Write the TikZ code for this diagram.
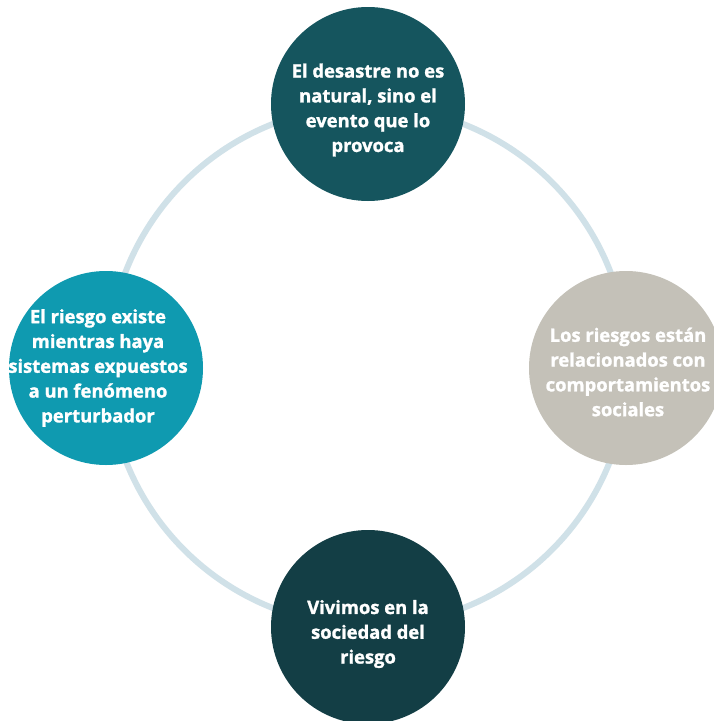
\documentclass[tikz,border=0pt]{standalone}
\usepackage{fontspec}
\setmainfont{Open Sans}[BoldFeatures={FakeBold=1.4}]
\definecolor{ringc}{HTML}{D0E1E8}
\definecolor{topc}{HTML}{15555E}
\definecolor{leftc}{HTML}{0F9AB0}
\definecolor{rightc}{HTML}{C4C1B8}
\definecolor{botc}{HTML}{133E45}
\tikzset{
  bubble/.style={circle, minimum size=194pt, inner sep=0pt},
  btext/.style={text=white, font=\bfseries\fontsize{18.4}{24.8}\selectfont, align=center},
}
\begin{document}
\begin{tikzpicture}[x=1pt,y=-1pt]
\useasboundingbox (0,0) rectangle (714,721);
\fill[white] (0,0) rectangle (714,721);
\coordinate (c) at (368,366);
\draw[ringc, line width=6pt] (c) circle (260);
\node[bubble, fill=topc] (top) at (368,104) {};
\node[btext] (toptxt) at (368,110) {El desastre no es\\natural, sino el\\evento que lo\\provoca};
\node[bubble, fill=leftc] (left) at (106,368) {};
\node[btext] (lefttxt) at (98,368) {El riesgo existe\\mientras haya\\sistemas expuestos\\a un fenómeno\\perturbador};
\node[bubble, fill=rightc] (right) at (626,368) {};
\node[btext] (righttxt) at (628,372) {Los riesgos están\\relacionados con\\comportamientos\\sociales};
\node[bubble, fill=botc] (bot) at (368,627) {};
\node[btext] (bottxt) at (368,634) {Vivimos en la\\sociedad del\\riesgo};
\end{tikzpicture}
\end{document}
